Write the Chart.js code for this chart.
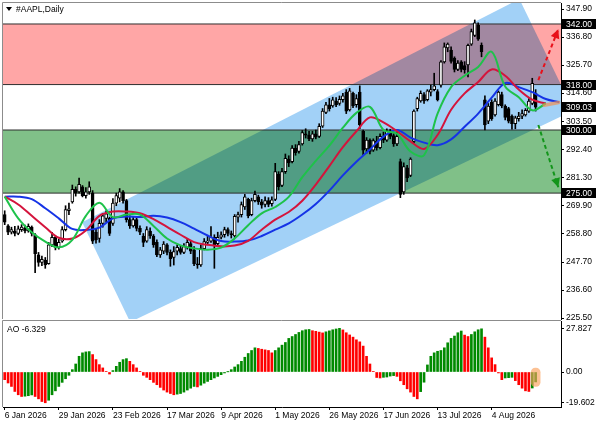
<!DOCTYPE html>
<html>
<head>
<meta charset="utf-8">
<script src="https://cdn.jsdelivr.net/npm/chart.js@4.4.1/dist/chart.umd.min.js"></script>
<style>
  html, body { margin: 0; padding: 0; background: #fff; }
  #wrap { position: relative; width: 596px; height: 425px; overflow: hidden; }
  #main { position: absolute; left: 0; top: 0; }
  #ao { position: absolute; left: 0; top: 320px; }
</style>
</head>
<body>
<div id="wrap">
  <canvas id="main" width="596" height="320"></canvas>
  <canvas id="ao" width="596" height="105"></canvas>
</div>
<script>
// --- data ---
const xTickIdx = [0, 16, 32, 48, 64, 80, 96, 112, 128, 144];
const xTickLabels = ['6 Jan 2026', '29 Jan 2026', '23 Feb 2026', '17 Mar 2026', '9 Apr 2026',
  '1 May 2026', '26 May 2026', '17 Jun 2026', '13 Jul 2026', '4 Aug 2026'];
const priceTicks = [347.9, 336.8, 325.7, 314.6, 303.5, 292.4, 281.3, 269.9, 258.8, 247.7, 236.6, 225.5];
const aoTicks = [27.827, 0, -19.602];

const levels = [342, 318, 300, 275];
const lastPrice = 309.03;
const redZone = [318, 342];
const greenZone = [275, 300];
const channelIdx = [22.9, 37.1, 168.2, 152.2];
const channelPrice = [263.5, 223.9, 307.7, 351.9];
const upArrowIdx = [157.8, 163.7];
const upArrowPrice = [319.8, 339.9];
const downArrowIdx = [157.8, 163.7];
const downArrowPrice = [302.0, 277.3];
const markIdx = [159.5, 163.8];
const markPrice = [309.8, 310.9];

const opens = [
  266.5, 262, 259.5, 260, 259, 260.5, 261.2, 260, 261.5, 258.5, 250.5, 247.5, 248.5, 247, 254.5, 257.5, 253.5, 256, 260.5, 268,
  271.5, 276.5, 275.5, 277.5, 274, 275.5, 275, 259.5, 257, 263, 265, 265, 263, 271, 273, 275.5, 272, 264.5, 262, 264.5,
  261, 258, 256, 260, 258, 255.5, 250.5, 252, 254.5, 251.5, 249.5, 252, 253, 251.5, 253.5, 255, 252.5, 247, 246.5, 253,
  255.5, 256, 257.5, 255, 257.5, 258.5, 260.5, 259, 258, 265.5, 266.5, 269.5, 272.5, 266.5, 272, 273.5, 271.5, 270.5, 272, 270.8,
  272.5, 282.5, 278, 283.5, 288.5, 287.5, 292.8, 291.5, 294.5, 298.5, 298, 296.5, 298.5, 297.5, 301.5, 307, 310, 309.5, 311.5, 310.5,
  312, 315, 308, 314.5, 310, 315, 299.5, 292.5, 296, 292, 295.5, 293, 297, 296, 299.5, 297.8, 294.5, 287.5, 275.5, 285,
  282, 295.5, 308.5, 311.5, 314, 312, 315, 316, 315.2, 317.8, 327, 332.5, 331.7, 328.5, 324, 327, 325.5, 325.8, 334, 337.5,
  341.5, 333.5, 312, 303.5, 311, 306, 310, 314, 309.5, 308.5, 305.5, 302.5, 304.5, 305.5, 306, 307.5, 310.5, 314.5
];
const highs = [
  268, 262.5, 261.5, 261.8, 262, 262.5, 262.3, 262.8, 262, 259, 251.5, 250, 249.5, 255.5, 259.5, 258, 256.8, 261.7, 270, 271,
  278.2, 277.5, 281, 278, 277.2, 279.5, 276, 261, 264.5, 267, 268, 265.5, 272.8, 275, 276.8, 276, 272.5, 266, 265.5, 265,
  262, 259, 261.7, 261.2, 258.6, 256.5, 253.5, 255.8, 255, 252.5, 253.8, 254.5, 254, 255, 256.8, 256, 253.8, 249.5, 254.5, 257,
  258, 261.7, 258.5, 259.5, 259.7, 261.5, 261.2, 260, 266.5, 267.5, 271.5, 274.5, 273, 273, 275.8, 274.2, 272.5, 273.5, 273.2, 273.5,
  286.8, 283.5, 284.8, 290.5, 289.8, 293.8, 294.2, 295.5, 299.8, 300.5, 299.5, 299.5, 300, 302.5, 308.5, 311, 312.5, 313, 312.8, 313.5,
  314.5, 316, 316.5, 315, 314, 317.5, 300, 297, 296.5, 296.5, 297.5, 298.5, 299.2, 300.5, 300.3, 298.5, 299.3, 288.5, 287, 286,
  289, 308, 313, 315.5, 314.8, 316, 317.8, 322.5, 316, 327.5, 334.5, 334.5, 333, 329, 327.5, 327.5, 327.1, 334, 340, 343.6,
  342.5, 334.5, 313.5, 310.5, 312, 312.5, 315.5, 315, 310, 309, 306, 305.5, 307, 308, 308.5, 312.5, 320.5, 316
];
const lows = [
  262.5, 258.5, 258.8, 258, 258.5, 259.8, 259.2, 259.5, 258, 243.5, 246, 246.2, 245.2, 246.8, 253.8, 252.5, 252.8, 255.5, 260, 266.5,
  271, 273.8, 275, 273.5, 273, 274.5, 255, 255.2, 255.5, 261.5, 263.5, 258.2, 262.2, 270, 271.5, 271, 263.5, 261, 261.5, 260,
  258.5, 253.8, 255.5, 257, 253.5, 249.8, 249.5, 251, 250.5, 246, 246.5, 250.5, 250.8, 251, 252.8, 251, 246.2, 245.2, 246, 252.5,
  254.5, 255.5, 245.2, 254.5, 256.8, 257.5, 258, 257.2, 257.5, 263.5, 265.5, 268.5, 265.2, 266, 271.5, 270.5, 269, 269.5, 269.6, 269.8,
  272, 276.2, 277.5, 282.8, 285.5, 287, 290, 290.8, 294, 296.8, 295.8, 295.5, 296.5, 297, 301, 306.5, 307.5, 309, 309.2, 309.8,
  311, 306.5, 307.5, 308.8, 309, 300.5, 290, 290.8, 290.5, 291.5, 292, 292.5, 295, 295.5, 296.5, 293.5, 293.8, 273.2, 274.5, 279.5,
  281.5, 295, 307.5, 311, 310.5, 311.5, 313.5, 315.5, 311.5, 317, 326.5, 331, 326.5, 323, 323.5, 323, 322.5, 321, 333.5, 337,
  335.5, 329, 300, 302.5, 303.8, 305.5, 309.5, 308.8, 304, 302.8, 300.3, 300.5, 303.5, 304.5, 305.5, 307, 310, 307.5
];
const closes = [
  263.5, 259.5, 260.5, 259, 260.8, 261.5, 260, 261.8, 259, 251, 247.5, 248.8, 246.5, 254.5, 257.5, 253.5, 255.5, 260.5, 268.5, 268.8,
  276.5, 275, 278.5, 274, 275.5, 277.5, 256, 256.5, 263, 266, 266.8, 259, 271, 274, 275.5, 272, 264.5, 262, 264.5, 261,
  259.5, 255.5, 260.5, 258, 254.5, 250.5, 252.5, 254.8, 251.5, 249, 251.8, 253.5, 251.5, 253.8, 255.5, 252, 247, 246.5, 253, 255.8,
  256, 257.5, 254.5, 257.5, 258.5, 260.5, 259, 258.5, 265.8, 266.5, 270.5, 273.5, 266, 272, 274.5, 271.5, 270.2, 272, 270.5, 272.3,
  283.5, 277.5, 283.5, 288.8, 287, 292.8, 291, 294.2, 299, 298, 296.5, 298.5, 297.2, 301.5, 307.5, 310, 308.5, 312, 310, 312.2,
  313.5, 307.5, 315.5, 309.5, 312.5, 302, 292, 296, 291.5, 295.8, 293, 297.5, 296, 299.5, 297.5, 294.5, 297.5, 274.5, 285.5, 281,
  288.5, 307.5, 312.5, 314.5, 311.5, 315.5, 316, 317.5, 312, 327, 333, 334, 327.2, 324, 326.5, 324, 323.8, 333.5, 339, 342.5,
  336, 331, 302, 309.5, 304.5, 311.5, 315, 309.5, 305, 303.5, 302.5, 304.8, 305.5, 306.5, 307.8, 311.5, 318.5, 309.03
];

// alligator lines, one value every MA_STEP bars starting at bar 0
const MA_STEP = 4;
const jaw = [273.6, 273.6, 272.6, 269, 265, 260.8, 260.4, 261.3, 265, 265.7, 265.5, 266, 265.3, 263.5, 260.9, 258.2,
  256, 255.8, 256.2, 258, 260.5, 263, 266.5, 270.7, 276, 282, 287.4, 292.3, 297.4, 300, 297, 295, 294, 296.3,
  301.3, 306.5, 312.8, 318.6, 317, 315, 312.3, 311];
const teeth = [273.6, 270.5, 266, 261.5, 257.3, 257, 260.2, 266, 267.7, 267.7, 267, 264.7, 261.6, 258.5, 255.6, 254.5,
  253.9, 254.2, 256.1, 260.5, 264.5, 267.5, 272, 278.4, 285.7, 293.2, 299.5, 305, 303, 299.5, 295.5, 292.5, 298,
  308, 314.5, 319, 324, 321.5, 316, 312, 310.5];
const lips = [273.6, 265, 259.5, 255.8, 253.5, 256.5, 266, 271.2, 265.5, 266.5, 266.5, 262, 257, 254.3, 253.1, 252.6,
  253.4, 257, 262.3, 267, 269.5, 273.5, 281.3, 287.8, 293.8, 300.9, 306.8, 309.2, 300, 298.5, 291.5, 290, 306.5,
  317, 321.5, 325, 331, 317.2, 313, 307.8, 310.5];

const aoValues = [
  -4.9, -7.0, -9.2, -12.4, -14.5, -15.6, -15.4, -15.1, -14.6, -15.6, -17.1, -18.8, -19.602, -18.0, -14.5, -12.0, -9.2, -6.6, -4.3, -2.1,
  1.5, 5.1, 10.0, 12.2, 12.8, 13.0, 11.1, 7.9, 4.7, 2.6, 0.4, -1.3, 0.9, 3.6, 6.2, 7.9, 8.5, 6.8, 4.7, 2.6,
  0.4, -2.1, -3.4, -4.9, -6.6, -8.1, -9.8, -11.5, -12.8, -13.7, -14.5, -14.1, -13.7, -12.8, -11.5, -10.3, -9.2, -9.5, -8.4, -7.1,
  -6.0, -4.9, -3.8, -2.8, -1.7, -0.6, 0.1, 1.5, 3.2, 4.7, 6.8, 9.4, 11.8, 13.7, 15.4, 15.0, 14.5, 14.1, 13.7, 12.2,
  13.7, 15.4, 17.1, 18.8, 21.4, 22.6, 23.9, 25.2, 26.3, 26.9, 27.1, 26.3, 25.9, 25.4, 24.9, 25.6, 26.2, 26.9, 27.4, 27.827,
  26.8, 25.0, 23.6, 22.2, 20.5, 19.2, 16.5, 10.0, 5.1, 0.4, -3.5, -3.8, -3.4, -3.2, -2.6, -2.3, -2.8, -5.6, -8.1, -10.7,
  -12.8, -15.6, -17.1, -12.5, -6.5, 4.5, 10.0, 12.2, 13.2, 13.7, 15.4, 18.6, 21.4, 22.9, 25.0, 26.1, 23.5, 22.6, 23.9, 25.6,
  26.9, 27.5, 22.2, 15.4, 9.0, 4.7, -0.6, -4.9, -3.8, -3.6, -3.4, -5.5, -8.1, -10.3, -12.0, -12.4, -10.2, -6.329
];
const aoMarkIdx = 157;
const aoMarkRange = [2.5, -9.2];

// --- setup ---
const X_MIN = -0.5, X_MAX = 164.5;
const FONT = '"Liberation Sans", Arial, sans-serif';
Chart.defaults.font.family = FONT;
Chart.defaults.font.size = 8.5;
Chart.defaults.color = '#000';

const bars = closes.map((_, i) => i);
const maPoints = arr => arr.map((v, k) => ({ x: k * MA_STEP, y: v }));
const pairPoints = (xs, ys) => xs.map((v, k) => ({ x: v, y: ys[k] }));

const lineBase = { type: 'line', pointRadius: 0, fill: false };

// axes keep their own size, no extra room for end labels
const fixWidth = w => s => { s.width = w; s.paddingTop = 0; s.paddingBottom = 0; };
const fixHeight = h => s => { s.height = h; s.paddingLeft = 0; s.paddingRight = 0; };

// zones + channel (multiply blend like the terminal)
const zonesPlugin = {
  id: 'zones',
  beforeDatasetsDraw(chart) {
    const { ctx, chartArea: a, scales: { x, y } } = chart;
    ctx.save();
    ctx.beginPath();
    ctx.rect(a.left, a.top, a.width, a.height);
    ctx.clip();
    const band = (z, color) => {
      const top = y.getPixelForValue(z[1]), bot = y.getPixelForValue(z[0]);
      ctx.fillStyle = color;
      ctx.fillRect(a.left, top, a.width, bot - top);
    };
    band(redZone, '#ffa6a6');
    band(greenZone, '#80c088');
    ctx.globalCompositeOperation = 'multiply';
    ctx.fillStyle = '#a2d1f7';
    ctx.beginPath();
    channelIdx.forEach((v, k) => {
      const px = x.getPixelForValue(v), py = y.getPixelForValue(channelPrice[k]);
      if (k) ctx.lineTo(px, py); else ctx.moveTo(px, py);
    });
    ctx.closePath();
    ctx.fill();
    ctx.restore();
  }
};

const arrowHeads = {
  id: 'arrowHeads',
  afterDatasetsDraw(chart) {
    const ctx = chart.ctx;
    chart.data.datasets.forEach((ds, k) => {
      if (!ds.arrow) return;
      const pts = chart.getDatasetMeta(k).data;
      const a = pts[pts.length - 2], b = pts[pts.length - 1];
      const ang = Math.atan2(b.y - a.y, b.x - a.x);
      ctx.save();
      ctx.translate(b.x, b.y);
      ctx.rotate(ang);
      ctx.fillStyle = ds.borderColor;
      ctx.beginPath();
      ctx.moveTo(0, 0);
      ctx.lineTo(-9, -4.5);
      ctx.lineTo(-9, 4.5);
      ctx.closePath();
      ctx.fill();
      ctx.restore();
    });
  }
};

const frame = (title, withMarker) => ({
  id: 'frame',
  afterDraw(chart) {
    const { ctx, chartArea: a } = chart;
    ctx.save();
    ctx.strokeStyle = '#8c8c8c';
    ctx.lineWidth = 1;
    ctx.beginPath();
    ctx.moveTo(a.right, a.top - 0.5);
    ctx.lineTo(a.left - 0.5, a.top - 0.5);
    ctx.lineTo(a.left - 0.5, a.bottom);
    ctx.stroke();
    ctx.fillStyle = '#000';
    ctx.font = '8.5px ' + FONT;
    ctx.textBaseline = 'middle';
    if (withMarker) {
      ctx.beginPath();
      ctx.moveTo(a.left + 3, a.top + 4);
      ctx.lineTo(a.left + 9, a.top + 4);
      ctx.lineTo(a.left + 6, a.top + 8);
      ctx.closePath();
      ctx.fill();
      ctx.fillText(title, a.left + 13, a.top + 6.5);
    } else {
      ctx.fillText(title, a.left + 4, a.top + 9);
    }
    ctx.restore();
  }
});

const priceBoxes = {
  id: 'priceBoxes',
  afterDraw(chart) {
    const { ctx, chartArea: a, scales: { y } } = chart;
    ctx.save();
    ctx.font = '8.5px ' + FONT;
    ctx.textBaseline = 'middle';
    [...levels, lastPrice].forEach(v => {
      const py = Math.round(y.getPixelForValue(v));
      ctx.fillStyle = '#000';
      ctx.fillRect(a.right + 1, py - 5, chart.width - a.right - 1, 10);
      ctx.fillStyle = '#fff';
      ctx.fillText(v.toFixed(2), a.right + 5, py + 0.5);
    });
    ctx.restore();
  }
};

const xScale = {
  type: 'linear', min: X_MIN, max: X_MAX, offset: false, grid: { offset: false, display: false }
};

// --- main price panel ---
new Chart(document.getElementById('main'), {
  type: 'bar',
  data: {
    datasets: [
      ...levels.map(L => ({
        ...lineBase, data: [{ x: X_MIN, y: L }, { x: X_MAX, y: L }],
        borderColor: '#2e2e2e', borderWidth: 1, order: 8
      })),
      {
        type: 'bar', data: bars.map(i => ({ x: i, y: [lows[i], highs[i]] })),
        backgroundColor: '#000', barThickness: 1, grouped: false, order: 6
      },
      {
        type: 'bar', data: bars.map(i => ({ x: i, y: [opens[i], closes[i]] })),
        backgroundColor: bars.map(i => closes[i] >= opens[i] ? '#ffffff' : '#000000'),
        borderColor: '#000', borderWidth: 1, borderSkipped: false, minBarLength: 1,
        barThickness: 3, grouped: false, order: 5
      },
      { ...lineBase, data: maPoints(jaw), borderColor: '#1533e6', borderWidth: 2, tension: 0.35, order: 4 },
      { ...lineBase, data: maPoints(teeth), borderColor: '#d4143c', borderWidth: 2, tension: 0.35, order: 3 },
      { ...lineBase, data: maPoints(lips), borderColor: '#1ec24a', borderWidth: 2, tension: 0.35, order: 2 },
      {
        ...lineBase, data: pairPoints(markIdx, markPrice),
        borderColor: 'rgba(240,145,85,0.7)', borderWidth: 3.5, borderCapStyle: 'round', order: 1
      },
      {
        ...lineBase, data: pairPoints(upArrowIdx, upArrowPrice), arrow: true,
        borderColor: '#e8101a', borderWidth: 2, borderDash: [4, 3], order: 0
      },
      {
        ...lineBase, data: pairPoints(downArrowIdx, downArrowPrice), arrow: true,
        borderColor: '#13951b', borderWidth: 2, borderDash: [4, 3], order: 0
      }
    ]
  },
  options: {
    responsive: false, animation: false, events: [],
    layout: { padding: { left: 3, top: 3, right: 0, bottom: 1 } },
    plugins: { legend: { display: false }, tooltip: { enabled: false } },
    scales: {
      x: { ...xScale, display: false },
      y: {
        type: 'linear', position: 'right', min: 225.12, max: 350.32, beginAtZero: false,
        afterBuildTicks: s => { s.ticks = priceTicks.map(v => ({ value: v })); },
        afterFit: fixWidth(35),
        ticks: { callback: v => Number(v).toFixed(2), padding: 2, autoSkip: false },
        grid: { drawOnChartArea: false, tickLength: 3, color: '#000' },
        border: { display: true, color: '#000' }
      }
    }
  },
  plugins: [zonesPlugin, arrowHeads, frame('#AAPL,Daily', true), priceBoxes]
});

// --- AO panel ---
new Chart(document.getElementById('ao'), {
  type: 'bar',
  data: {
    datasets: [
      {
        type: 'bar', data: pairPoints([aoMarkIdx], [aoMarkRange]),
        backgroundColor: 'rgba(250,160,90,0.65)', barThickness: 9, borderRadius: 5,
        borderSkipped: false, grouped: false, order: 0
      },
      {
        type: 'bar', data: aoValues.map((v, i) => ({ x: i, y: v })),
        backgroundColor: aoValues.map((v, i) => (i > 0 && v > aoValues[i - 1]) ? '#008a00' : '#ff0000'),
        barThickness: 2, grouped: false, order: 1
      }
    ]
  },
  options: {
    responsive: false, animation: false, events: [],
    layout: { padding: { left: 3, top: 1, right: 0, bottom: 0 } },
    plugins: { legend: { display: false }, tooltip: { enabled: false } },
    scales: {
      x: {
        ...xScale,
        afterBuildTicks: s => { s.ticks = xTickIdx.map(v => ({ value: v })); },
        afterFit: fixHeight(18),
        ticks: {
          callback: v => xTickLabels[xTickIdx.indexOf(v)], align: 'start',
          maxRotation: 0, autoSkip: false, padding: 1
        },
        grid: { display: true, drawOnChartArea: false, tickLength: 3, color: '#000', offset: false },
        border: { display: true, color: '#000' }
      },
      y: {
        type: 'linear', position: 'right', min: -22.29, max: 32.48, beginAtZero: false,
        afterBuildTicks: s => { s.ticks = aoTicks.map(v => ({ value: v })); },
        afterFit: fixWidth(35),
        ticks: { callback: v => v === 0 ? '0.00' : v.toFixed(3), padding: 2, autoSkip: false },
        grid: { drawOnChartArea: false, tickLength: 3, color: '#000' },
        border: { display: true, color: '#000' }
      }
    }
  },
  plugins: [frame('AO -6.329', false)]
});
</script>
</body>
</html>
